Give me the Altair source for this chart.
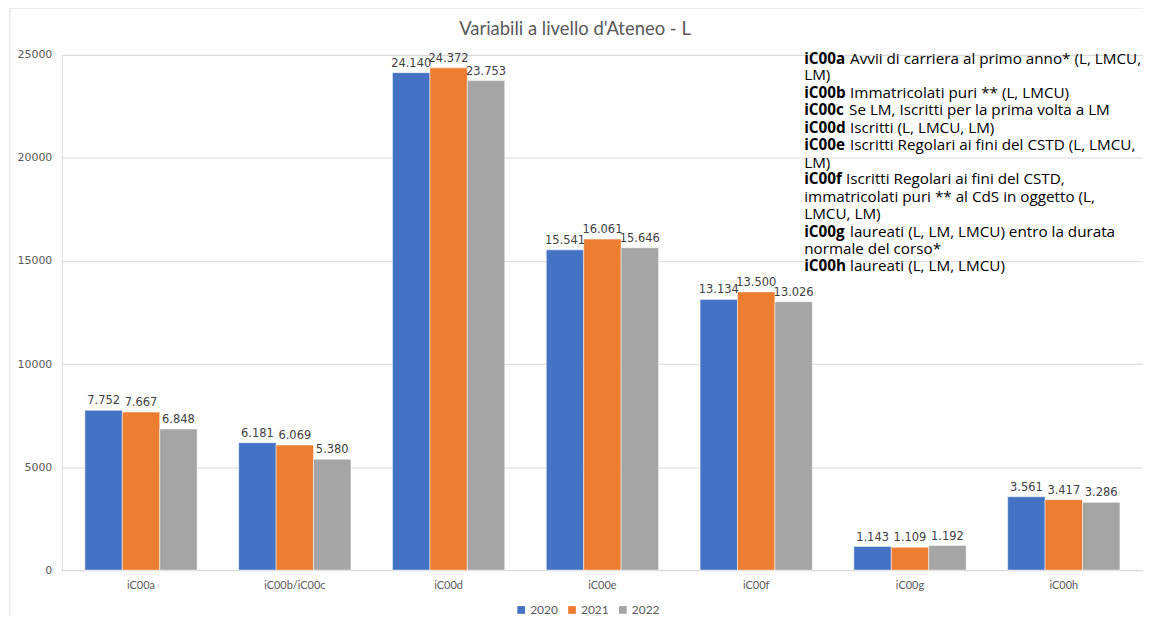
import altair as alt
import pandas as pd

categories = ["iC00a", "iC00b/iC00c", "iC00d", "iC00e", "iC00f", "iC00g", "iC00h"]
years = ["2020", "2021", "2022"]
values_2020 = [7752, 6181, 24140, 15541, 13134, 1143, 3561]
values_2021 = [7667, 6069, 24372, 16061, 13500, 1109, 3417]
values_2022 = [6848, 5380, 23753, 15646, 13026, 1192, 3286]
colors = ["#4472C4", "#ED7D31", "#A5A5A5"]

note_bold = ["iC00a", "", "iC00b", "iC00c", "iC00d", "iC00e", "", "iC00f", "", "", "iC00g", "", "iC00h"]
note_rest = [
    "Avvii di carriera al primo anno* (L, LMCU,",
    "LM)",
    "Immatricolati puri ** (L, LMCU)",
    "Se LM, Iscritti per la prima volta a LM",
    "Iscritti (L, LMCU, LM)",
    "Iscritti Regolari ai fini del CSTD (L, LMCU,",
    "LM)",
    "Iscritti Regolari ai fini del CSTD,",
    "immatricolati puri ** al CdS in oggetto (L,",
    "LMCU, LM)",
    "laureati (L, LM, LMCU) entro la durata",
    "normale del corso*",
    "laureati (L, LM, LMCU)",
]
# pixel layout of the note block (positions only)
note_y = [4, 20, 38, 55, 73, 90, 108, 125, 143, 160, 178, 195, 212]
note_rest_x = [791, 745, 791, 790, 791, 791, 745, 787, 745, 745, 791, 745, 791]

rows = []
for y, vals in zip(years, [values_2020, values_2021, values_2022]):
    for c, v in zip(categories, vals):
        rows.append({"cat": c, "year": y, "value": v,
                     "label": f"{v:,}".replace(",", ".")})
df = pd.DataFrame(rows)

notes = pd.DataFrame({"bold": note_bold, "rest": note_rest, "py": note_y,
                      "px_rest": note_rest_x})
notes["px_bold"] = 745

W, H = 1085, 517
NOTE_FONT = "Open Sans"
NOTE_SIZE = 15.3

base = alt.Chart(df).encode(
    x=alt.X("cat:N", sort=categories, title=None,
            scale=alt.Scale(paddingInner=0.27, paddingOuter=0.15),
            axis=alt.Axis(labelAngle=0, labelFont="Lato", labelFontSize=11,
                          labelColor="#595959", labelPadding=9, ticks=False,
                          domainColor="#d9d9d9", grid=False)),
    xOffset=alt.XOffset("year:N", sort=years),
    y=alt.Y("value:Q", title=None,
            scale=alt.Scale(domain=[0, 25000], nice=False),
            axis=alt.Axis(values=[0, 5000, 10000, 15000, 20000, 25000],
                          format="d", labelFont="DejaVu Sans", labelFontSize=11,
                          labelColor="#595959", labelPadding=10, ticks=False,
                          domain=False, gridColor="#d9d9d9")),
)

bars = base.mark_bar(stroke="white", strokeWidth=0.5).encode(
    color=alt.Color("year:N", sort=years,
                    scale=alt.Scale(domain=years, range=colors),
                    legend=alt.Legend(title=None, orient="none", direction="horizontal",
                                      legendX=455, legendY=551, symbolType="square",
                                      symbolSize=60, symbolStrokeWidth=0,
                                      labelFont="Lato", labelFontSize=12,
                                      labelColor="#595959", columnPadding=8,
                                      labelOffset=3)),
)

labels = base.mark_text(baseline="bottom", dy=-4, font="DejaVu Sans",
                        fontSize=11.5, color="#404040").encode(
    text="label:N",
)

main = alt.layer(bars, labels)

title = alt.Chart(pd.DataFrame({"t": ["Variabili a livello d'Ateneo - L"]})).mark_text(
    font="Lato", fontSize=18.5, color="#595959", baseline="middle", align="center"
).encode(x=alt.value(515), y=alt.value(-26), text="t:N")

note_bold_layer = alt.Chart(notes).mark_text(
    font=NOTE_FONT, fontSize=NOTE_SIZE, fontWeight="bold", color="#000000",
    align="left", baseline="middle"
).encode(x=alt.X("px_bold:Q", scale=None), y=alt.Y("py:Q", scale=None), text="bold:N")

note_rest_layer = alt.Chart(notes).mark_text(
    font=NOTE_FONT, fontSize=NOTE_SIZE, color="#000000", align="left", baseline="middle"
).encode(x=alt.X("px_rest:Q", scale=None), y=alt.Y("py:Q", scale=None), text="rest:N")

border = alt.Chart(pd.DataFrame({"a": [0]})).mark_rect(
    fill=None, stroke="#d9d9d9", strokeWidth=1
).encode(x=alt.value(-52), x2=alt.value(1200), y=alt.value(-47), y2=alt.value(700))

extras = alt.layer(title, note_bold_layer, note_rest_layer)

chart = alt.layer(border, main, extras).resolve_scale(
    x="independent", y="independent"
).properties(
    width=W, height=H,
    autosize=alt.AutoSizeParams(type="none"),
    padding={"left": 54, "top": 46, "right": 0, "bottom": 45},
).configure_view(stroke=None).configure(background="white")

chart.save("out.html", embed_options={"renderer": "svg", "actions": False})
